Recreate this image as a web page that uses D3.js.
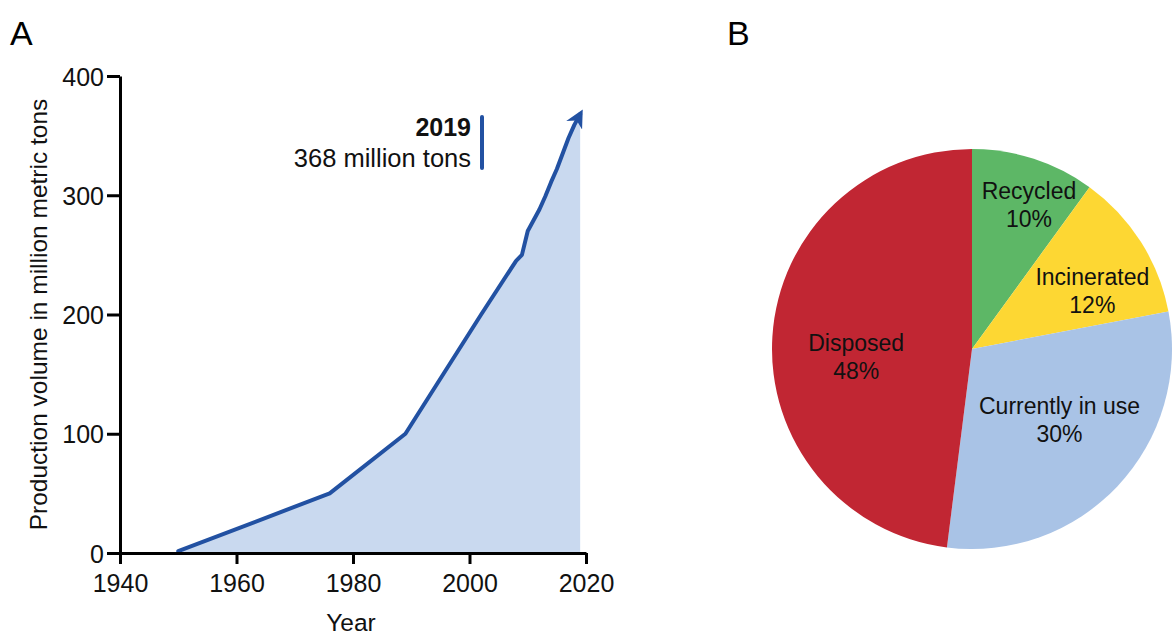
<!DOCTYPE html>
<html>
<head>
<meta charset="utf-8">
<script src="https://cdn.jsdelivr.net/npm/d3@7"></script>
<style>
  body { margin: 0; background: #fff; }
  svg { font-family: "Liberation Sans", Arial, sans-serif; }
</style>
</head>
<body>
<svg id="chart" width="1172" height="637"></svg>
<script>
// panel A: world plastics production (million metric tons)
const years = [1950, 1976, 1989, 2002, 2008, 2009, 2010, 2011, 2012, 2013, 2014, 2015, 2016, 2017, 2018, 2019];
const production = [1.5, 50, 100, 200, 245, 250, 270, 279, 288, 299, 311, 322, 335, 348, 359, 368];
const xTicks = [1940, 1960, 1980, 2000, 2020];
const yTicks = [0, 100, 200, 300, 400];

// panel B: fate of plastics
const fates = ["Recycled", "Incinerated", "Currently in use", "Disposed"];
const shares = [10, 12, 30, 48];
const fateColors = ["#5db766", "#fdd733", "#a9c3e6", "#c12633"];

const svg = d3.select("#chart");
const lineColor = "#2251a2";

// ---------- A ----------
const x = d3.scaleLinear().domain([1940, 2020]).range([120, 586]);
const y = d3.scaleLinear().domain([0, 400]).range([553, 76]);

svg.append("text").attr("x", 10).attr("y", 45)
  .attr("font-size", 34).text("A");

const pts = years.map((yr, i) => [yr, production[i]]);

svg.append("path")
  .datum(pts)
  .attr("fill", "#c9d9ef")
  .attr("d", d3.area().x(d => x(d[0])).y0(y(0)).y1(d => y(d[1])));

svg.append("defs").append("marker")
  .attr("id", "arrow")
  .attr("viewBox", "0 0 10 10")
  .attr("refX", 7).attr("refY", 5)
  .attr("markerWidth", 4.5).attr("markerHeight", 4.5)
  .attr("markerUnits", "strokeWidth")
  .attr("orient", "auto")
  .append("path")
  .attr("d", "M0,0 L10,5 L0,10 L3,5 Z")
  .attr("fill", lineColor);

svg.append("path")
  .datum(pts)
  .attr("fill", "none")
  .attr("stroke", lineColor)
  .attr("stroke-width", 4)
  .attr("stroke-linejoin", "round")
  .attr("stroke-linecap", "round")
  .attr("marker-end", "url(#arrow)")
  .attr("d", d3.line().x(d => x(d[0])).y(d => y(d[1])));

const xAxis = svg.append("g")
  .attr("transform", `translate(0,${y(0)})`)
  .call(d3.axisBottom(x).tickValues(xTicks).tickFormat(d3.format("d"))
    .tickSize(11).tickSizeOuter(0).tickPadding(10));
const yAxis = svg.append("g")
  .attr("transform", `translate(${x(1940)},0)`)
  .call(d3.axisLeft(y).tickValues(yTicks).tickSize(13).tickSizeOuter(0).tickPadding(3));

[xAxis, yAxis].forEach(g => {
  g.select(".domain").attr("stroke", "#000").attr("stroke-width", 3);
  g.selectAll(".tick line").attr("stroke", "#000").attr("stroke-width", 3);
  g.selectAll(".tick text").attr("font-size", 25).attr("fill", "#111")
    .attr("font-family", "Liberation Sans, Arial, sans-serif");
});
yAxis.selectAll(".tick text").attr("dy", "0.36em");

svg.append("text")
  .attr("x", (x(1940) + x(2020)) / 2 - 2).attr("y", 631)
  .attr("text-anchor", "middle").attr("font-size", 24.5).attr("fill", "#111")
  .text("Year");

svg.append("text")
  .attr("transform", `translate(47,${(y(0) + y(400)) / 2}) rotate(-90)`)
  .attr("text-anchor", "middle").attr("font-size", 24.5).attr("fill", "#111")
  .text("Production volume in million metric tons");

// annotation
const last = years.length - 1;
svg.append("text")
  .attr("x", 471).attr("y", 136)
  .attr("text-anchor", "end").attr("font-size", 25).attr("font-weight", "bold")
  .attr("fill", "#111")
  .text(years[last]);
svg.append("text")
  .attr("x", 471).attr("y", 167)
  .attr("text-anchor", "end").attr("font-size", 25.5).attr("fill", "#111")
  .text(`${production[last]} million tons`);
svg.append("line")
  .attr("x1", 482).attr("x2", 482).attr("y1", 117).attr("y2", 168)
  .attr("stroke", lineColor).attr("stroke-width", 4).attr("stroke-linecap", "round");

// ---------- B ----------
svg.append("text").attr("x", 727).attr("y", 45)
  .attr("font-size", 34).text("B");

const cx = 972, cy = 349, R = 200;
const pie = d3.pie().sort(null).value(d => d.v);
const arcs = pie(fates.map((f, i) => ({ name: f, v: shares[i], c: fateColors[i] })));
const arc = d3.arc().innerRadius(0).outerRadius(R);

const gPie = svg.append("g").attr("transform", `translate(${cx},${cy})`);
gPie.selectAll("path")
  .data(arcs)
  .join("path")
  .attr("d", arc)
  .attr("fill", d => d.data.c);

// label placement, relative to the slice's mid-angle
const labelPos = {
  "Recycled": { r: 0.78, da: 0.06 },
  "Incinerated": { r: 0.67, da: 0.11 },
  "Currently in use": { r: 0.56, da: -0.08 },
  "Disposed": { r: 0.58, da: -0.12 }
};
const lab = gPie.selectAll("g.lab")
  .data(arcs)
  .join("g")
  .attr("class", "lab")
  .attr("transform", d => {
    const p = labelPos[d.data.name];
    const a = (d.startAngle + d.endAngle) / 2 + p.da;
    return `translate(${Math.sin(a) * R * p.r},${-Math.cos(a) * R * p.r})`;
  });
lab.append("text")
  .attr("text-anchor", "middle").attr("font-size", 23).attr("fill", "#111")
  .attr("y", -5)
  .text(d => d.data.name);
lab.append("text")
  .attr("text-anchor", "middle").attr("font-size", 23).attr("fill", "#111")
  .attr("y", 23)
  .text(d => d.data.v + "%");
</script>
</body>
</html>
